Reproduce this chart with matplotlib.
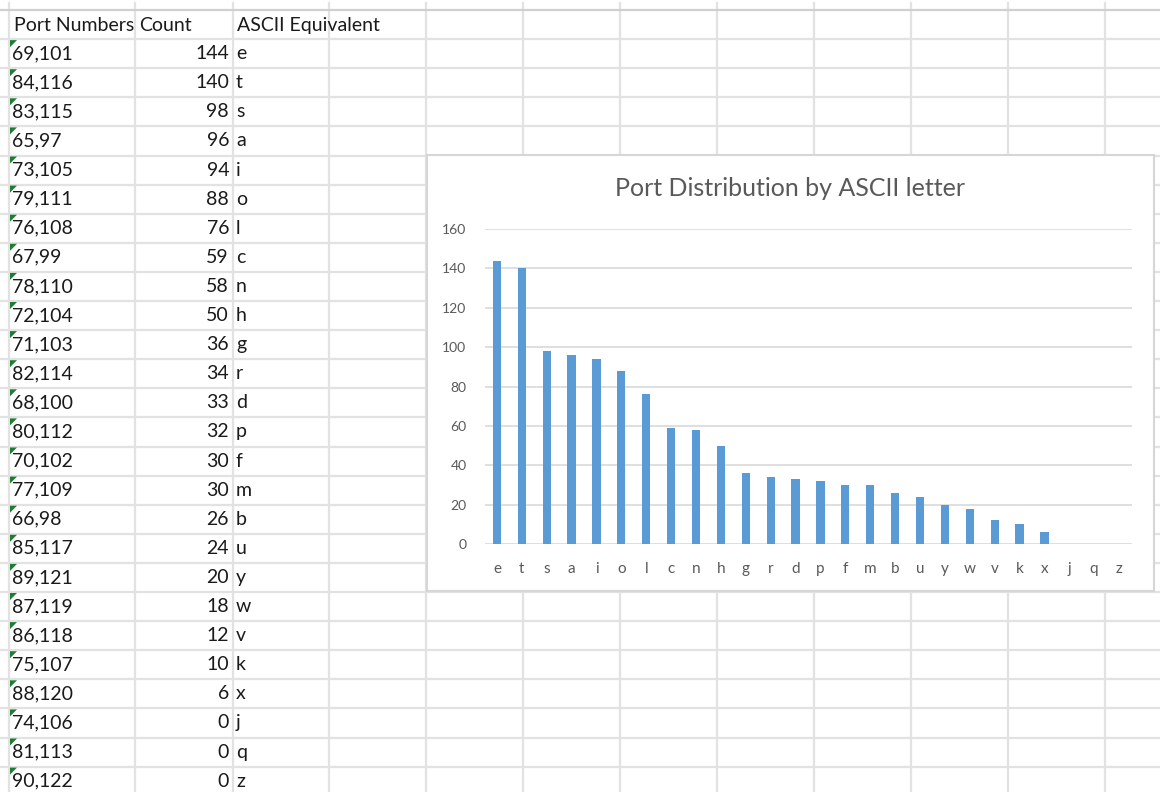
import matplotlib
matplotlib.use('Agg')
import matplotlib.pyplot as plt
from matplotlib.patches import Rectangle, Polygon

ports = ['69,101', '84,116', '83,115', '65,97', '73,105', '79,111', '76,108', '67,99',
         '78,110', '72,104', '71,103', '82,114', '68,100', '80,112', '70,102', '77,109',
         '66,98', '85,117', '89,121', '87,119', '86,118', '75,107', '88,120', '74,106',
         '81,113', '90,122']
counts = [144, 140, 98, 96, 94, 88, 76, 59, 58, 50, 36, 34, 33, 32, 30, 30, 26, 24, 20,
          18, 12, 10, 6, 0, 0, 0]
letters = ['e', 't', 's', 'a', 'i', 'o', 'l', 'c', 'n', 'h', 'g', 'r', 'd', 'p', 'f', 'm',
           'b', 'u', 'y', 'w', 'v', 'k', 'x', 'j', 'q', 'z']
headers = ['Port Numbers', 'Count', 'ASCII Equivalent']

W, H = 1160, 792
plt.rcParams['font.family'] = ['Lato', 'DejaVu Sans']

fig = plt.figure(figsize=(W / 100, H / 100), dpi=100)
bg = fig.add_axes([0, 0, 1, 1])
bg.set_xlim(0, W)
bg.set_ylim(H, 0)
bg.axis('off')

# spreadsheet grid
grid_c = '#e2e2e2'
cols = [9, 135, 233, 329, 426, 523, 620, 717, 814, 911, 1008, 1105]
row0, rh = 10, 29.1
for x in cols:
    bg.plot([x, x], [3, H], color=grid_c, lw=1.6, zorder=1)
for i in range(28):
    y = row0 + i * rh
    bg.plot([0, W], [y, y], color='#d0d0d0' if i == 0 else grid_c, lw=1.6, zorder=1)

# table text
tc = '#1a1a1a'
fs = 14
hy = row0 + rh / 2 + 1
t = bg.text(14, hy, headers[0], fontsize=fs, color=tc, va='center', ha='left')
t.set_clip_path(Rectangle((9, 0), 126, H, transform=bg.transData))
bg.text(139, hy, headers[1], fontsize=fs, color=tc, va='center', ha='left')
bg.text(237, hy, headers[2], fontsize=fs, color=tc, va='center', ha='left')
for i, (p, c, l) in enumerate(zip(ports, counts, letters)):
    y = row0 + (i + 1.5) * rh
    bg.text(12, y, p, fontsize=fs, color=tc, va='center', ha='left')
    bg.text(229, y, str(c), fontsize=fs, color=tc, va='center', ha='right')
    bg.text(236, y, l, fontsize=fs, color=tc, va='center', ha='left')
    ytop = row0 + (i + 1) * rh + 1
    bg.add_patch(Polygon([[10, ytop], [17, ytop], [10, ytop + 7]], closed=True,
                         color='#1e7d32', lw=0, zorder=3))

# chart box
bg.add_patch(Rectangle((427, 155), 1154 - 427, 591 - 155, facecolor='white',
                       edgecolor='#d6d6d6', lw=1.5, zorder=4))
bg.text(790, 189, 'Port Distribution by ASCII letter', fontsize=18, color='#595959',
        ha='center', va='center', zorder=5)

# bar chart
left, right, top, bottom = 484.5, 1131.5, 229, 544
ax = fig.add_axes([left / W, 1 - bottom / H, (right - left) / W, (bottom - top) / H])
ax.set_zorder(6)
ax.patch.set_alpha(0)
x = range(len(letters))
ax.bar(x, counts, width=0.33, color='#5b9bd5', zorder=3)
ax.set_xlim(-0.5, len(letters) - 0.5)
ax.set_ylim(0, 160)
ax.set_yticks(range(0, 161, 20))
ax.set_xticks(list(x))
ax.set_xticklabels(letters)
for s in ax.spines.values():
    s.set_visible(False)
ax.yaxis.grid(True, color='#d9d9d9', lw=1.2)
ax.set_axisbelow(True)
ax.tick_params(axis='y', length=0, pad=13, labelsize=10, labelcolor='#595959')
ax.tick_params(axis='x', length=0, pad=13, labelsize=11, labelcolor='#595959')

fig.savefig('out.png', dpi=100)
